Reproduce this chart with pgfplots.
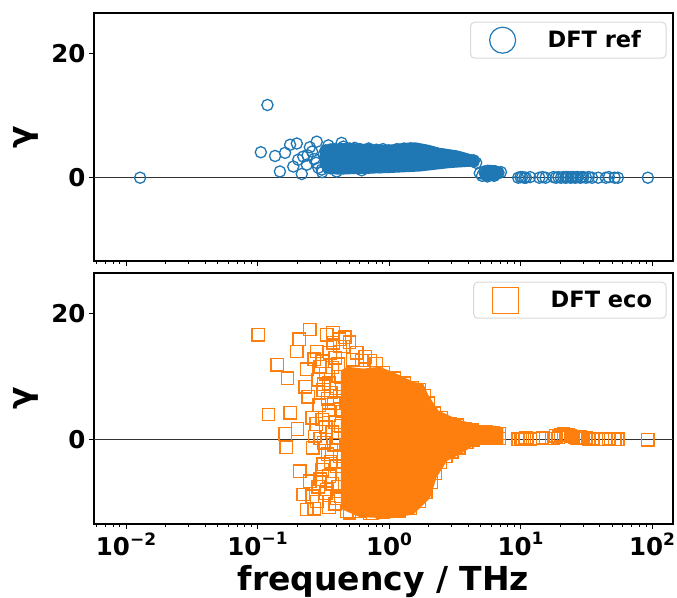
\documentclass[border=0pt]{standalone}
\usepackage{fontspec}
\setmainfont{DejaVu Sans}
\usepackage{pgfplots}
\pgfplotsset{compat=1.18}
\definecolor{tabblue}{RGB}{31,119,180}
\definecolor{taborange}{RGB}{255,127,14}
\newcommand{\sci}[1]{10\raisebox{0.42em}{\fontsize{17}{17}\selectfont #1}}
\begin{document}
\begin{tikzpicture}
\begin{axis}[name=top, height=248pt, xticklabels={},
    scale only axis, width=579pt,
    xmode=log, xmin=0.00571, xmax=144.4, ymin=-13.4, ymax=26.5,
    axis line style={line width=2.6pt},
    xtick={0.01,0.1,1,10,100},
    minor xtick={0.006,0.007,0.008,0.009,0.02,0.03,0.04,0.05,0.06,0.07,0.08,0.09,0.2,0.3,0.4,0.5,0.6,0.7,0.8,0.9,2,3,4,5,6,7,8,9,20,30,40,50,60,70,80,90},
    ytick={0,20}, yticklabels={0,20},
    xtick pos=bottom, ytick pos=left,
    tick align=outside,
    major tick length=5pt, minor tick length=3pt,
    every tick/.style={black, line width=1pt},
    tick label style={font=\fontsize{24.5}{28}\selectfont\bfseries},
    ylabel={γ},
    ylabel style={at={(axis description cs:-0.1183,0.5)}, anchor=center, font=\fontsize{33}{38}\selectfont\bfseries},
    legend style={at={(1,1)}, anchor=north east, xshift=-6.5pt, yshift=-8.7pt,
      draw=black!15, line width=1pt, rounded corners=4pt,
      inner xsep=19pt, inner ysep=5pt,
      font=\fontsize{22.5}{26}\selectfont\bfseries},
    legend image post style={mark size=13pt, tabblue, line width=1.2pt}]
\addplot[black!80, line width=1.2pt, forget plot] coordinates {(0.00571,0) (144.4,0)};
\addplot[fill=tabblue, draw=none, forget plot] coordinates {
(0.30,4.8) (0.35,5.5) (0.5,5.6) (0.7,5.4) (1.0,5.3) (1.3,5.6) (1.58,5.7) (2.0,5.3) (2.44,4.8) (3.3,4.4) (4.35,3.7) (4.6,3.4) (4.75,2.9) (4.78,2.3)
(4.6,1.75) (4.35,1.8) (2.9,1.55) (1.72,1.0) (1.0,0.75) (0.6,0.6) (0.4,0.5) (0.32,0.8) (0.30,2.0)};
\addplot[fill=tabblue, draw=none, forget plot] coordinates {
(4.85,0.7) (5.0,1.7) (5.6,2.1) (6.5,2.0) (7.2,1.6) (7.45,0.8) (7.2,-0.1) (6.3,-0.5) (5.4,-0.6) (4.95,-0.2)};
\addplot[only marks, mark=o, tabblue, mark size=5.6pt, line width=1.3pt] table {
x y
0.0128 0.0
0.119 11.7
0.106 4.1
0.136 3.5
0.148 1.0
0.162 4.0
0.177 5.3
0.199 5.5
0.187 1.8
0.204 2.9
0.217 0.6
0.223 3.4
0.237 2.1
0.250 4.9
0.282 5.8
0.308 1.3
0.346 5.2
0.436 5.6
0.27 3.0
0.29 1.6
0.26 4.2
0.32 3.8
0.35 2.2
0.38 4.6
0.40 1.0
0.42 3.1
0.31 0.9
0.36 1.5
0.45 5.0
0.50 2.0
0.55 4.8
0.62 1.2
0.24 3.6
0.28 2.4
0.33 4.4
0.5 4.7
0.6 4.6
0.7 4.7
0.8 4.5
0.9 4.6
1.0 4.4
1.15 4.6
1.3 4.7
1.45 4.7
1.6 4.6
1.8 4.4
2.0 4.2
2.3 3.9
2.6 3.7
2.9 3.5
3.2 3.4
3.5 3.2
3.8 3.0
4.1 2.8
4.4 2.6
4.6 2.4
0.45 1.5
0.55 1.6
0.7 1.6
0.85 1.7
1.0 1.75
1.2 1.9
1.5 2.0
1.8 2.2
2.1 2.4
2.5 2.5
3.0 2.6
3.5 2.7
4.0 2.8
4.4 2.8
0.6 3.0
0.8 3.2
1.0 3.0
1.3 3.3
1.7 3.2
2.2 3.1
2.8 3.0
3.6 2.9
4.9 0.7
5.1 0.3
5.3 1.0
5.5 0.6
5.8 0.9
6.1 0.5
6.4 1.0
6.8 0.8
7.1 0.9
5.6 0.2
6.3 0.3
9.6 0.0
10.0 0.1
10.3 0.1
10.7 0.0
11.0 0.0
11.8 0.1
13.9 0.0
14.7 0.1
15.5 0.0
17.8 0.1
18.6 0.0
19.4 0.1
20.3 0.0
21.2 0.1
22.0 0.0
22.5 0.1
23.0 0.1
24.0 0.0
24.5 0.1
25.0 0.1
26.0 0.0
26.6 0.1
27.2 0.1
28.5 0.0
29.2 0.1
30.0 0.1
31.5 0.0
33.0 0.1
35.0 0.0
39.0 0.0
44.5 0.0
47.0 0.1
52.0 0.0
55.0 0.0
93.0 0.0
};
\addlegendentry{\hspace*{30pt}DFT ref\hspace*{4pt}}
\end{axis}
\begin{axis}[at={(top.south west)}, anchor=north west, yshift=-12pt, height=251pt,
    scale only axis, width=579pt,
    xmode=log, xmin=0.00571, xmax=144.4, ymin=-13.4, ymax=26.5,
    axis line style={line width=2.6pt},
    xtick={0.01,0.1,1,10,100},
    minor xtick={0.006,0.007,0.008,0.009,0.02,0.03,0.04,0.05,0.06,0.07,0.08,0.09,0.2,0.3,0.4,0.5,0.6,0.7,0.8,0.9,2,3,4,5,6,7,8,9,20,30,40,50,60,70,80,90},
    ytick={0,20}, yticklabels={0,20},
    xtick pos=bottom, ytick pos=left,
    tick align=outside,
    major tick length=5pt, minor tick length=3pt,
    every tick/.style={black, line width=1pt},
    tick label style={font=\fontsize{24.5}{28}\selectfont\bfseries},
    ylabel={γ},
    ylabel style={at={(axis description cs:-0.1183,0.5)}, anchor=center, font=\fontsize{33}{38}\selectfont\bfseries},
    legend style={at={(1,1)}, anchor=north east, xshift=-6.5pt, yshift=-8.7pt,
      draw=black!15, line width=1pt, rounded corners=4pt,
      inner xsep=19pt, inner ysep=5pt,
      font=\fontsize{22.5}{26}\selectfont\bfseries},
    legend image post style={mark size=13pt, taborange, line width=1.2pt},
  xticklabels={\sci{−2},\sci{−1},\sci{0},\sci{1},\sci{2}},
  xlabel={frequency / THz},
  xlabel style={at={(axis description cs:0.5,0)}, anchor=base, yshift=-66pt, font=\fontsize{33}{38}\selectfont\bfseries}]
\addplot[black!80, line width=1.2pt, forget plot] coordinates {(0.00571,0) (144.4,0)};
\addplot[fill=taborange, draw=none, forget plot] coordinates {
(0.43,11.0) (0.48,11.6) (0.64,11.3) (0.85,11.6) (1.14,10.5) (1.53,9.2) (1.82,8.9) (2.0,7.0) (2.37,4.65) (3.27,3.3) (4.38,2.5) (4.92,2.25) (7.4,2.0)
(7.4,-0.7) (4.92,-0.7) (4.38,-1.0) (3.47,-2.3) (2.75,-3.4) (2.3,-6.0) (2.05,-9.3) (1.53,-11.9) (1.0,-12.5) (0.6,-12.3) (0.43,-11.0)};
\addplot[only marks, mark=square, taborange, mark size=6.2pt, line width=1.3pt] table {
x y
0.101 16.7
0.25 17.5
0.208 16.0
0.336 16.7
0.199 14.0
0.1415 11.9
0.169 9.8
0.237 11.2
0.282 14.0
0.23 8.4
0.243 6.8
0.295 5.5
0.121 4.0
0.177 4.3
0.162 0.9
0.201 1.7
0.165 -1.2
0.263 -1.3
0.273 0.5
0.21 -5.0
0.25 -6.6
0.223 -8.7
0.237 -11.1
0.282 -9.8
0.336 -7.9
0.316 7.9
0.356 13.8
0.377 15.4
0.424 14.8
0.30 11.6
0.346 4.7
0.366 -1.8
0.40 -9.3
0.477 -11.4
0.717 -11.7
0.316 -3.9
0.30 -6.3
0.27 -11.0
0.26 -9.0
0.31 12.5
0.33 10.5
0.35 9.0
0.37 11.5
0.39 13.0
0.41 12.0
0.43 10.0
0.32 8.8
0.34 6.5
0.36 7.5
0.38 5.8
0.40 8.2
0.42 6.8
0.44 4.5
0.31 3.2
0.33 2.0
0.35 3.9
0.37 1.2
0.39 2.8
0.41 0.3
0.43 2.2
0.32 -0.5
0.34 -2.3
0.36 -3.5
0.38 -0.8
0.40 -4.2
0.42 -2.6
0.44 -5.5
0.31 -4.8
0.33 -8.5
0.35 -5.8
0.37 -7.0
0.39 -10.2
0.41 -7.5
0.43 -9.0
0.35 -10.8
0.29 -7.5
0.28 2.5
0.29 9.5
0.27 12.8
0.26 3.5
0.30 0.2
0.375 17.0
0.447 14.8
0.50 15.5
0.568 13.8
0.717 12.6
0.46 16.3
0.53 12.7
0.62 12.6
0.80 12.1
0.66 13.2
0.42 16.0
0.90 10.6
1.10 9.8
1.30 9.0
1.50 8.3
1.70 7.9
1.85 7.0
2.00 5.8
2.20 4.2
2.50 3.5
2.90 2.6
3.30 2.3
3.80 1.8
4.30 1.5
4.90 1.2
5.50 1.2
6.20 1.1
6.90 1.0
0.50 -11.6
0.60 -11.4
0.75 -11.7
0.90 -11.5
1.20 -11.3
1.45 -10.9
1.70 -9.8
1.90 -8.4
2.10 -6.8
2.25 -5.3
2.45 -3.6
2.70 -2.6
3.00 -1.9
3.40 -1.3
3.90 -0.4
4.40 0.0
4.90 0.3
5.50 0.3
6.20 0.3
6.90 0.2
9.6 0.1
10.0 0.2
10.3 0.2
10.7 0.1
11.0 0.3
11.8 0.1
13.9 0.2
14.7 0.3
15.5 0.2
17.8 0.2
18.6 0.6
19.4 0.4
20.3 0.8
21.2 0.9
22.0 0.7
22.5 0.8
23.0 0.8
24.0 0.6
24.5 0.5
25.0 0.5
26.0 0.4
26.6 0.3
27.2 0.3
28.5 0.4
29.2 0.2
30.0 0.2
31.5 0.3
33.0 0.1
35.0 0.2
39.0 0.1
44.5 0.1
47.0 0.2
52.0 0.1
55.0 0.1
93.0 0.0
};
\addlegendentry{\hspace*{30pt}DFT eco\hspace*{-7pt}}
\end{axis}
\pgfresetboundingbox
\path[use as bounding box] ([xshift=-94pt,yshift=13pt]top.north west) rectangle ++(677pt,-597pt);
\end{tikzpicture}
\end{document}
